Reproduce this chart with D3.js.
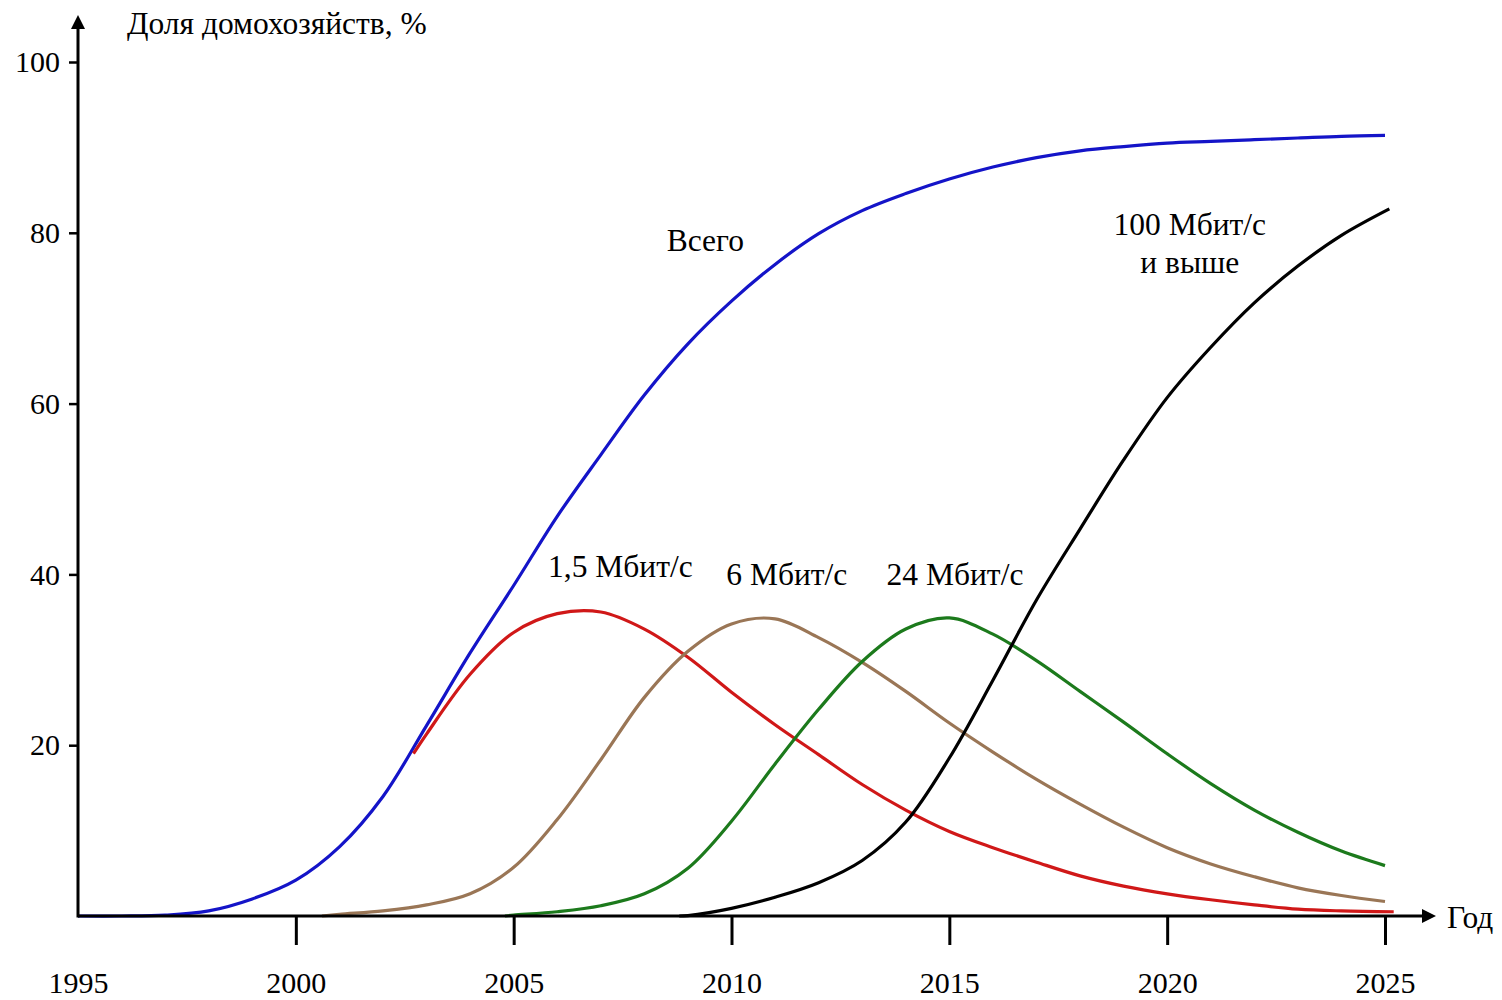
<!DOCTYPE html>
<html>
<head>
<meta charset="utf-8">
<script src="https://cdn.jsdelivr.net/npm/d3@7"></script>
<style>
  body { margin: 0; background: #fff; }
  text { font-family: "Liberation Serif", "Times New Roman", serif; }
</style>
</head>
<body>
<svg id="main" width="1502" height="1000"></svg>
<script>
// values: [year, % of households]
const total = [[1995,0],[1996,0],[1997,0.1],[1998,0.6],[1999,2.0],[2000,4.2],[2001,8.1],[2002,14.0],[2003,22.3],[2004,30.8],[2005,38.7],[2006,46.8],[2007,54.0],[2008,61.0],[2009,67.0],[2010,72.0],[2011,76.3],[2012,79.9],[2013,82.6],[2014,84.6],[2015,86.3],[2016,87.7],[2017,88.8],[2018,89.6],[2019,90.1],[2020,90.5],[2021,90.7],[2022,90.9],[2023,91.1],[2024,91.3],[2025,91.4]];
const mbit1_5 = [[2002.7,19.0],[2003,21.3],[2004,28.3],[2005,33.2],[2006,35.4],[2007,35.6],[2008,33.6],[2009,30.3],[2010,26.2],[2011,22.4],[2012,18.9],[2013,15.4],[2014,12.4],[2015,9.9],[2016,8.0],[2017,6.3],[2018,4.7],[2019,3.5],[2020,2.6],[2021,1.9],[2022,1.3],[2023,0.8],[2024,0.6],[2025.2,0.5]];
const mbit6 = [[2000.6,0],[2001,0.2],[2002,0.6],[2003,1.3],[2004,2.6],[2005,5.7],[2006,11.3],[2007,18.3],[2008,25.6],[2009,31.0],[2010,34.2],[2011,34.8],[2012,32.6],[2013,29.7],[2014,26.3],[2015,22.6],[2016,19.2],[2017,16.0],[2018,13.1],[2019,10.4],[2020,8.0],[2021,6.1],[2022,4.6],[2023,3.3],[2024,2.4],[2025,1.7]];
const mbit24 = [[2004.8,0],[2005,0.1],[2006,0.5],[2007,1.2],[2008,2.6],[2009,5.6],[2010,11.1],[2011,17.8],[2012,24.2],[2013,29.8],[2014,33.6],[2015,34.9],[2016,33.0],[2017,29.9],[2018,26.3],[2019,22.7],[2020,19.0],[2021,15.5],[2022,12.4],[2023,9.8],[2024,7.6],[2025,5.9]];
const mbit100 = [[2008.8,0],[2009,0.05],[2010,0.9],[2011,2.2],[2012,3.9],[2013,6.5],[2014,11.0],[2015,18.5],[2016,27.6],[2017,37.0],[2018,45.3],[2019,53.4],[2020,60.7],[2021,66.6],[2022,71.8],[2023,76.1],[2024,79.7],[2025.1,82.8]];

const xTicks = [1995, 2000, 2005, 2010, 2015, 2020, 2025];
const yTicks = [20, 40, 60, 80, 100];

const series = [
    {name: "Всего", data: total, color: "#1414c8"},
    {name: "1,5 Мбит/с", data: mbit1_5, color: "#d01818"},
    {name: "6 Мбит/с", data: mbit6, color: "#9a7656"},
    {name: "24 Мбит/с", data: mbit24, color: "#1c7a1c"},
    {name: "100 Мбит/с", data: mbit100, color: "#000000"}
];

// label anchors in data units
const labels = [
    {lines: ["Всего"], year: 2009.4, value: 77.9},
    {lines: ["1,5 Мбит/с"], year: 2007.45, value: 39.7},
    {lines: ["6 Мбит/с"], year: 2011.27, value: 38.8},
    {lines: ["24 Мбит/с"], year: 2015.13, value: 38.8},
    {lines: ["100 Мбит/с", "и выше"], year: 2020.52, value: 79.7}
];

const svg = d3.select("#main");
const xScale = d3.scaleLinear([1995, 2025], [78, 1385]);
const yScale = d3.scaleLinear([0, 100], [916, 62]);
const tickFont = 30;
const labelFont = 31.5;

// lines
const line = d3.line()
    .x(d => xScale(d[0]))
    .y(d => yScale(d[1]))
    .curve(d3.curveCatmullRom.alpha(0.5));

svg.append("g")
    .selectAll("path")
    .data(series)
    .join("path")
    .attr("d", d => line(d.data))
    .attr("fill", "none")
    .attr("stroke", d => d.color)
    .attr("stroke-width", 3.2)
    .attr("stroke-linejoin", "round");

// axes
const xAxis = svg.append("g")
    .attr("transform", `translate(0, ${yScale(0)})`)
    .call(d3.axisBottom(xScale).tickValues(xTicks).tickFormat(d3.format("d")).tickSize(29).tickPadding(27));
xAxis.select(".domain").remove();
xAxis.selectAll(".tick line").attr("stroke", "#000").attr("stroke-width", 3)
    .attr("display", d => d === 1995 ? "none" : null);
xAxis.selectAll("text").attr("font-size", tickFont).attr("fill", "#000")
    .attr("font-family", '"Liberation Serif", "Times New Roman", serif');

const yAxis = svg.append("g")
    .attr("transform", `translate(${xScale(1995)}, 0)`)
    .call(d3.axisLeft(yScale).tickValues(yTicks).tickSize(9).tickPadding(9));
yAxis.select(".domain").remove();
yAxis.selectAll(".tick line").attr("stroke", "#000").attr("stroke-width", 2.5);
yAxis.selectAll("text").attr("font-size", tickFont).attr("fill", "#000")
    .attr("font-family", '"Liberation Serif", "Times New Roman", serif');

// axis lines with arrows
const x0 = xScale(1995), y0 = yScale(0);
svg.append("line").attr("x1", x0).attr("x2", 1424).attr("y1", y0).attr("y2", y0)
    .attr("stroke", "#000").attr("stroke-width", 3);
svg.append("line").attr("x1", x0).attr("x2", x0).attr("y1", y0 + 1.5).attr("y2", 26)
    .attr("stroke", "#000").attr("stroke-width", 3);
svg.append("path").attr("d", `M1436,${y0} L1422,${y0 - 7} L1422,${y0 + 7} Z`).attr("fill", "#000");
svg.append("path").attr("d", `M${x0},15 L${x0 - 7},29 L${x0 + 7},29 Z`).attr("fill", "#000");

svg.append("text").attr("x", 127).attr("y", 34).attr("font-size", labelFont)
    .text("Доля домохозяйств, %");
svg.append("text").attr("x", 1447).attr("y", 928).attr("font-size", labelFont)
    .text("Год");

// curve labels
const lab = svg.append("g")
    .selectAll("text")
    .data(labels)
    .join("text")
    .attr("text-anchor", "middle")
    .attr("font-size", labelFont)
    .attr("x", d => xScale(d.year))
    .attr("y", d => yScale(d.value));
lab.selectAll("tspan")
    .data(d => d.lines)
    .join("tspan")
    .attr("x", function() { return d3.select(this.parentNode).attr("x"); })
    .attr("dy", (d, i) => i === 0 ? 0 : 38)
    .text(d => d);
</script>
</body>
</html>
